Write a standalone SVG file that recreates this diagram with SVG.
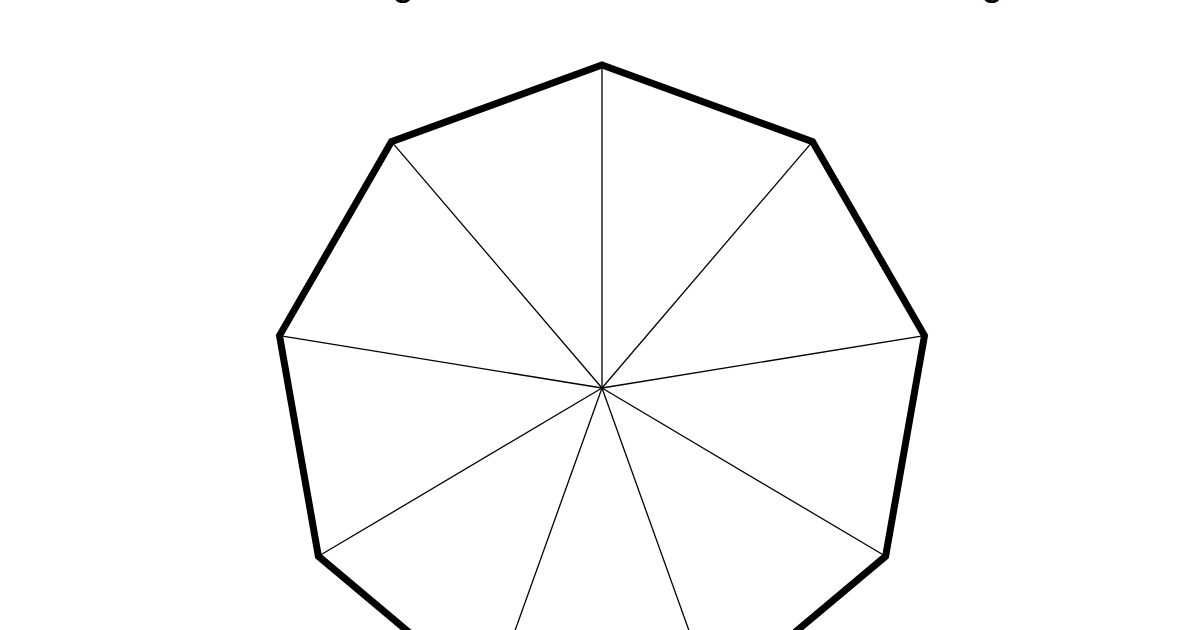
<svg xmlns="http://www.w3.org/2000/svg" width="1200" height="630" viewBox="0 0 1200 630">
  <style>
    .title { font-family: "Liberation Sans", Arial, sans-serif; font-size: 40px; fill: #000; text-anchor: middle; }
    .outline { fill: none; stroke: #000; stroke-width: 7; stroke-linejoin: miter; }
    .spoke { stroke: #000; stroke-width: 1.3; fill: none; }
  </style>
  <rect width="1200" height="630" fill="#fff"/>
  <g id="title">
    <text class="title" x="403" y="-5">g</text>
    <text class="title" x="992" y="-5">g</text>
  </g>
  <g id="spokes">
    <line class="spoke" x1="602" y1="388" x2="602" y2="65"/>
    <line class="spoke" x1="602" y1="388" x2="812.5" y2="141.6"/>
    <line class="spoke" x1="602" y1="388" x2="924.5" y2="335.6"/>
    <line class="spoke" x1="602" y1="388" x2="885.6" y2="556.3"/>
    <line class="spoke" x1="602" y1="388" x2="714" y2="700.3"/>
    <line class="spoke" x1="602" y1="388" x2="490" y2="700.3"/>
    <line class="spoke" x1="602" y1="388" x2="318.4" y2="556.3"/>
    <line class="spoke" x1="602" y1="388" x2="279.5" y2="335.6"/>
    <line class="spoke" x1="602" y1="388" x2="391.5" y2="141.6"/>
  </g>
  <g id="nonagon">
    <polygon class="outline" points="602,65 812.5,141.6 924.5,335.6 885.6,556.3 714,700.3 490,700.3 318.4,556.3 279.5,335.6 391.5,141.6"/>
  </g>
</svg>
